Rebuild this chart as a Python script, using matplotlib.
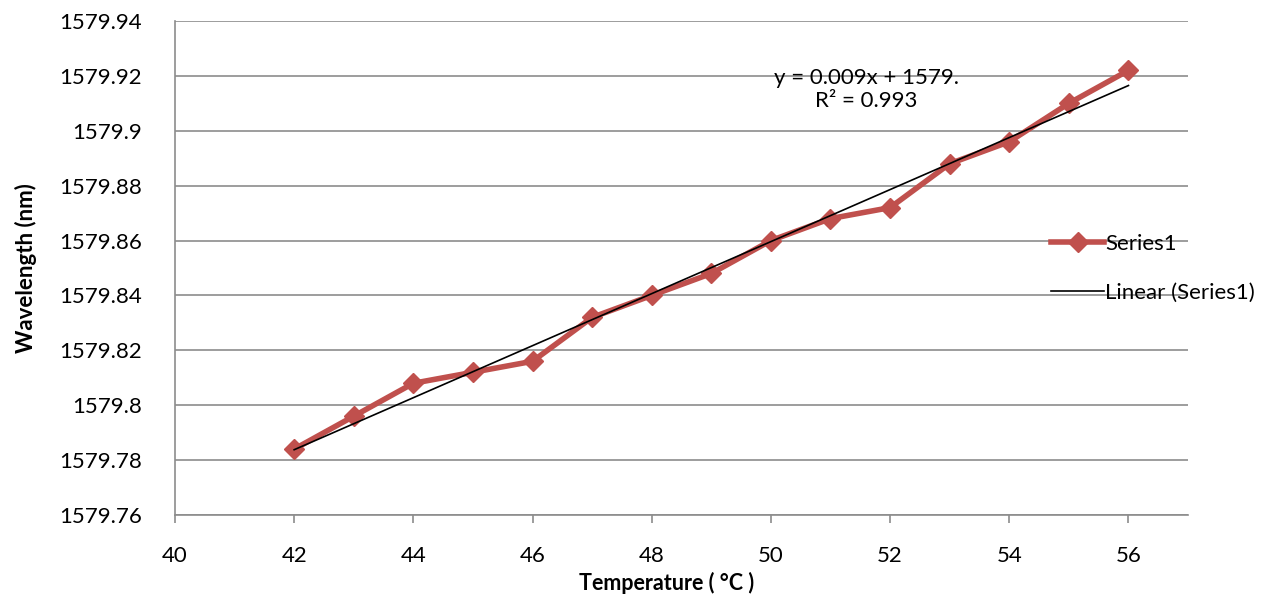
import numpy as np
import matplotlib
matplotlib.use("Agg")
from matplotlib import pyplot as plt

temperature = [42, 43, 44, 45, 46, 47, 48, 49, 50, 51, 52, 53, 54, 55, 56]
wavelength = [1579.784, 1579.796, 1579.808, 1579.812, 1579.816, 1579.832, 1579.840,
              1579.848, 1579.860, 1579.868, 1579.872, 1579.888, 1579.896, 1579.910, 1579.922]
y_ticks = [1579.76, 1579.78, 1579.8, 1579.82, 1579.84, 1579.86, 1579.88, 1579.9, 1579.92, 1579.94]
y_tick_labels = ["1579.76", "1579.78", "1579.8", "1579.82", "1579.84", "1579.86",
                 "1579.88", "1579.9", "1579.92", "1579.94"]
x_ticks = [40, 42, 44, 46, 48, 50, 52, 54, 56]
equation_text = "y = 0.009x + 1579.\nR² = 0.993"

plt.rcParams['font.family'] = ['Lato', 'DejaVu Sans']

fig = plt.figure(figsize=(12.79, 5.96), dpi=100)
ax = fig.add_axes([0.1368, 0.1359, 0.7921, 0.8289])

for y in y_ticks:
    ax.axhline(y, color='#8c8c8c', lw=1.2, zorder=0)

ax.plot(temperature, wavelength, color='#c0504d', lw=4, marker='D', markersize=10,
        label='Series1', zorder=2)

coef = np.polyfit(temperature, wavelength, 1)
fit_x = np.array([temperature[0], temperature[-1]])
ax.plot(fit_x, np.polyval(coef, fit_x), color='black', lw=1.2,
        label='Linear (Series1)', zorder=3)

ax.set_xlim(40, 57)
ax.set_ylim(1579.76, 1579.94)
ax.set_xticks(x_ticks)
ax.set_yticks(y_ticks)
ax.set_yticklabels(y_tick_labels)
ax.tick_params(axis='both', labelsize=16, colors='#8c8c8c', labelcolor='black',
               length=6, width=1.2, direction='out')
ax.tick_params(axis='x', pad=16)
ax.tick_params(axis='y', length=0, pad=24)

for side in ['top', 'right']:
    ax.spines[side].set_visible(False)
for side in ['left', 'bottom']:
    ax.spines[side].set_color('#8c8c8c')
    ax.spines[side].set_linewidth(1.2)

ax.set_xlabel('Temperature ( °C )', fontsize=15.5, fontweight='bold')
ax.xaxis.set_label_coords(0.485, -0.115)
ax.set_ylabel('Wavelength (nm)', fontsize=16, fontweight='bold', labelpad=16)

ax.text(51.6, 1579.915, equation_text, ha='center', va='center', fontsize=16,
        linespacing=1.2)

leg = ax.legend(loc='center left', bbox_to_anchor=(0.845, 0.5), frameon=False,
                fontsize=16, handlelength=2.4, handletextpad=0.05, labelspacing=1.3)

fig.savefig('out.png', dpi=100, facecolor='white')
